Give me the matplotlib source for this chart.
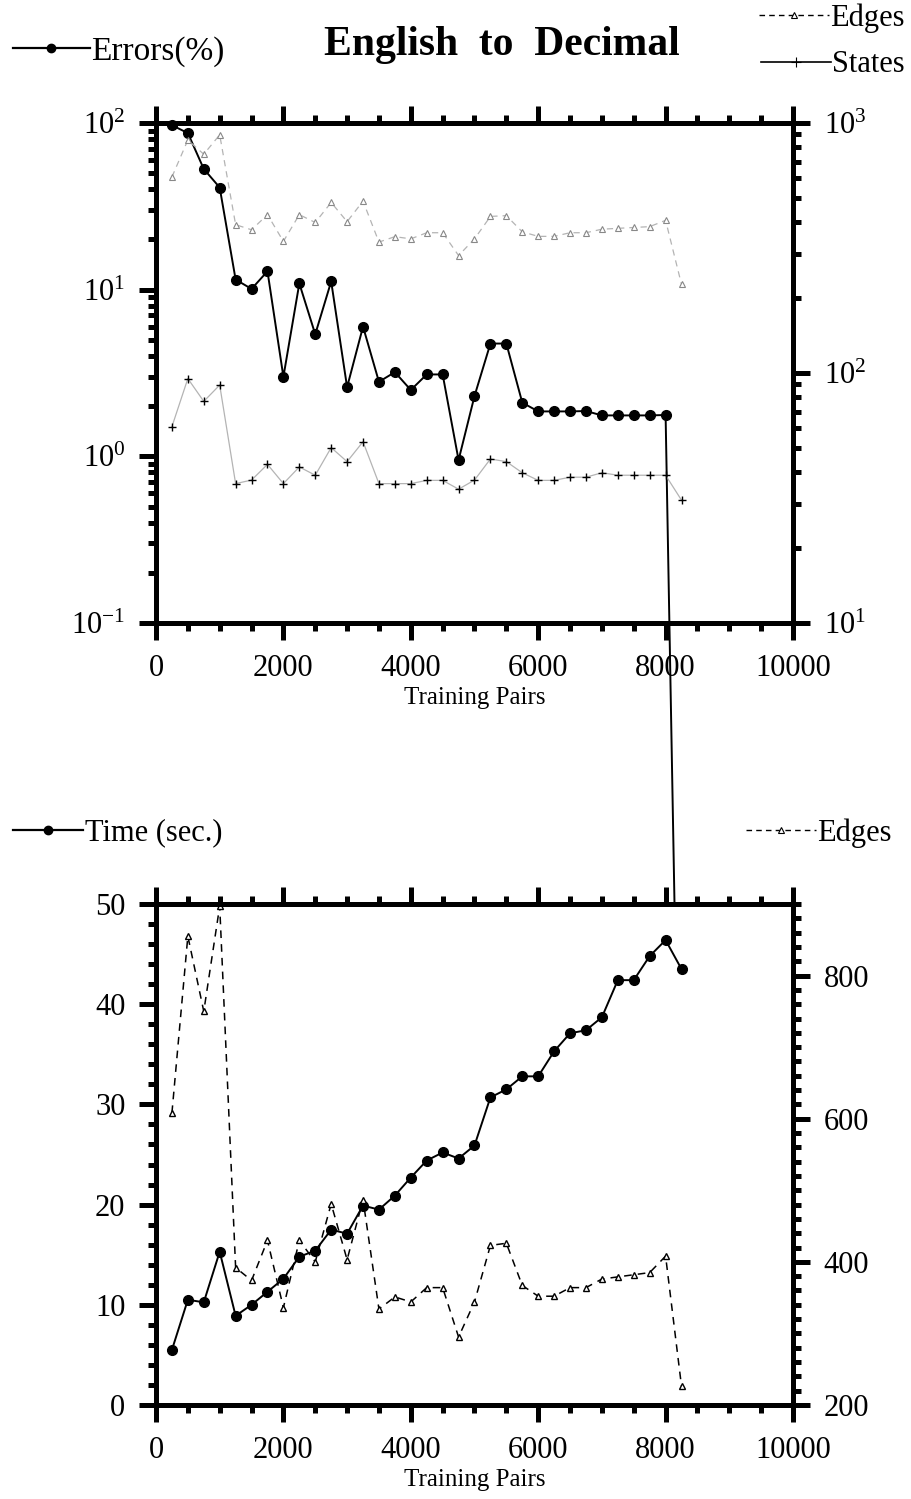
import numpy as np
import matplotlib
matplotlib.use('Agg')
import matplotlib.pyplot as plt
from matplotlib.lines import Line2D
from matplotlib.ticker import LogLocator, MultipleLocator, NullFormatter

plt.rcParams['font.family'] = ['Liberation Serif', 'DejaVu Serif']
plt.rcParams['mathtext.fontset'] = 'custom'
plt.rcParams['mathtext.rm'] = 'Liberation Serif'
plt.rcParams['mathtext.default'] = 'regular'
plt.rcParams['axes.unicode_minus'] = False

# data
pairs = np.arange(250, 8251, 250)
# last error is 0% -> plotted as a tiny value, line drops off the log axis
errors = [97, 87, 53, 41, 11.5, 10.1, 12.9, 3.0, 10.9, 5.4, 11.2, 2.6, 6.0, 2.8,
          3.2, 2.5, 3.1, 3.1, 0.95, 2.3, 4.75, 4.75, 2.1, 1.86, 1.86, 1.86, 1.87,
          1.76, 1.76, 1.76, 1.76, 1.77, 1e-5]
edges = [608, 855, 750, 897, 392, 374, 430, 336, 430, 400, 481, 403, 487, 334,
         351, 344, 364, 364, 295, 344, 423, 426, 367, 352, 352, 364, 364, 376,
         379, 382, 385, 408, 226]
states = [61, 95, 77, 89.5, 36.1, 37.3, 43.1, 36.1, 42.1, 39.0, 50.3, 44.2, 53.1,
          36.1, 36.1, 36.1, 37.2, 37.2, 34.3, 37.3, 45.3, 44.2, 39.9, 37.2, 37.2,
          38.3, 38.3, 39.9, 39.0, 39.0, 39.0, 39.0, 31.0]
time_sec = [5.5, 10.5, 10.25, 15.3, 8.9, 10.0, 11.3, 12.6, 14.8, 15.4, 17.5, 17.1,
            19.9, 19.5, 20.9, 22.7, 24.4, 25.2, 24.6, 25.9, 30.7, 31.5, 32.8, 32.8,
            35.3, 37.1, 37.4, 38.7, 42.4, 42.4, 44.8, 46.4, 43.5]

W, H = 912, 1499
fig = plt.figure(figsize=(W / 100, H / 100), dpi=100)

FS = 22
grey = '#b4b4b4'


def style(ax):
    for sp in ax.spines.values():
        sp.set_linewidth(3.6)
    ax.tick_params(which='major', direction='out', length=12, width=3.6,
                   labelsize=FS, pad=10)
    ax.tick_params(which='minor', direction='out', length=6, width=3.6)


def xaxis_setup(ax):
    ax.set_xlim(0, 10000)
    ax.xaxis.set_major_locator(MultipleLocator(2000))
    ax.xaxis.set_minor_locator(MultipleLocator(500))
    ax.tick_params(axis='x', which='both', top=True, bottom=True)
    ax.set_xlabel('Training Pairs', fontsize=18, labelpad=3)


# ---- top panel: errors / edges / states
ax1 = fig.add_axes([156 / W, 1 - 623 / H, 637 / W, 500 / H])
ax1.set_yscale('log')
ax1.set_ylim(0.1, 100)
ax1.yaxis.set_minor_locator(LogLocator(base=10, subs=np.arange(2, 10), numticks=20))
ax1.yaxis.set_minor_formatter(NullFormatter())
xaxis_setup(ax1)
ax1.plot(pairs, errors, color='k', lw=1.4, marker='o', ms=7, clip_on=False, zorder=5)
style(ax1)

ax1r = ax1.twinx()
ax1r.set_yscale('log')
ax1r.set_ylim(10, 1000)
ax1r.yaxis.set_minor_locator(LogLocator(base=10, subs=np.arange(2, 10), numticks=20))
ax1r.yaxis.set_minor_formatter(NullFormatter())
ax1r.plot(pairs, edges, color=grey, lw=0.9, ls=(0, (5, 4)), marker='^', ms=5,
          mfc='white', mec='#888888', mew=0.8)
ax1r.plot(pairs, states, color=grey, lw=0.9, marker='+', ms=6, mec='k', mew=1.0)
style(ax1r)

# ---- bottom panel: time / edges
ax2 = fig.add_axes([156 / W, 1 - 1405 / H, 637 / W, 501 / H])
ax2.set_ylim(0, 50)
ax2.yaxis.set_major_locator(MultipleLocator(10))
ax2.yaxis.set_minor_locator(MultipleLocator(2))
xaxis_setup(ax2)
ax2.plot(pairs, time_sec, color='k', lw=1.4, marker='o', ms=7, zorder=5)
style(ax2)

ax2r = ax2.twinx()
ax2r.set_ylim(200, 900)
ax2r.yaxis.set_major_locator(MultipleLocator(200))
ax2r.yaxis.set_minor_locator(MultipleLocator(20))
ax2r.plot(pairs, edges, color='k', lw=1.1, ls=(0, (5, 4)), marker='^', ms=5,
          mfc='white', mec='k', mew=1.0)
style(ax2r)

# ---- title and legends
fig.text(502 / W, 1 - 45 / H, 'English  to  Decimal', ha='center', va='center',
         fontsize=30, fontweight='bold')

h_err = Line2D([], [], color='k', lw=1.6, marker='o', ms=6)
h_time = Line2D([], [], color='k', lw=1.6, marker='o', ms=6)
h_edge = Line2D([], [], color='k', lw=1.0, ls=(0, (4, 3)), marker='^', ms=4,
                mfc='white', mec='k', mew=0.8)
h_state = Line2D([], [], color='k', lw=1.2, marker='+', ms=7, mew=0.8)

leg_kw = dict(frameon=False, borderpad=0, borderaxespad=0, fontsize=FS,
              handlelength=2.3, handletextpad=0.05, numpoints=1)
fig.legend([h_err], ['Errors(%)'], loc='center left',
           bbox_to_anchor=(13 / W, 1 - 52 / H), prop={'size': 24},
           **{k: v for k, v in leg_kw.items() if k != 'fontsize'})
fig.legend([h_edge], ['Edges'], loc='center right',
           bbox_to_anchor=(905 / W, 1 - 18 / H), **leg_kw)
fig.legend([h_state], ['States'], loc='center right',
           bbox_to_anchor=(905 / W, 1 - 65 / H), **leg_kw)
fig.legend([h_time], ['Time (sec.)'], loc='center left',
           bbox_to_anchor=(13 / W, 1 - 833 / H), **leg_kw)
fig.legend([h_edge], ['Edges'], loc='center right',
           bbox_to_anchor=(892 / W, 1 - 833 / H), **leg_kw)

fig.savefig('out.png', dpi=100)
